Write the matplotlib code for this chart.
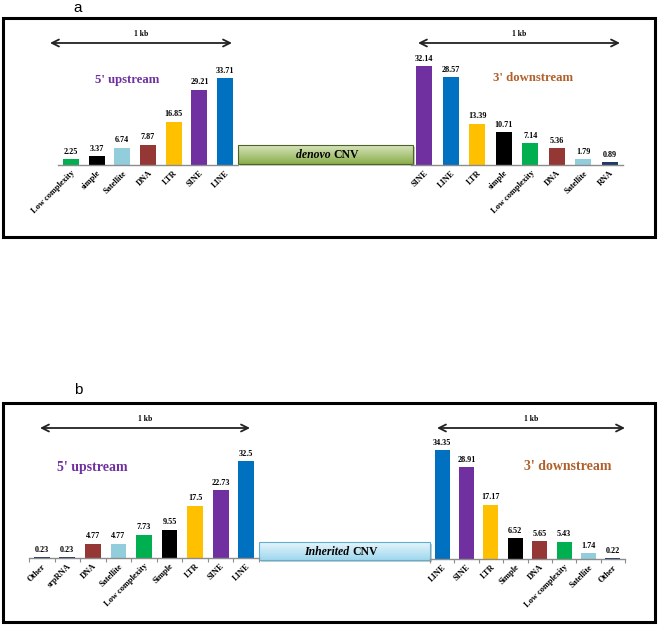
import numpy as np
import matplotlib
matplotlib.use('Agg')
import matplotlib.pyplot as plt
from matplotlib.patches import Rectangle
from matplotlib.colors import LinearSegmentedColormap

W, H = 661, 628

# panel a, de novo CNV
a_up_cats = ['Low complexity', 'simple', 'Satellite', 'DNA', 'LTR', 'SINE', 'LINE']
a_up_vals = [2.25, 3.37, 6.74, 7.87, 16.85, 29.21, 33.71]
a_down_cats = ['SINE', 'LINE', 'LTR', 'simple', 'Low complexity', 'DNA', 'Satellite', 'RNA']
a_down_vals = [32.14, 28.57, 13.39, 10.71, 7.14, 5.36, 1.79, 0.89]

# panel b, inherited CNV
b_up_cats = ['Other', 'srpRNA', 'DNA', 'Satellite', 'Low complexity', 'Simple', 'LTR', 'SINE', 'LINE']
b_up_vals = [0.23, 0.23, 4.77, 4.77, 7.73, 9.55, 17.5, 22.73, 32.5]
b_down_cats = ['LINE', 'SINE', 'LTR', 'Simple', 'DNA', 'Low complexity', 'Satellite', 'Other']
b_down_vals = [34.35, 28.91, 17.17, 6.52, 5.65, 5.43, 1.74, 0.22]

colors = {
    'LINE': '#0070c0', 'SINE': '#7030a0', 'LTR': '#ffc000',
    'simple': '#000000', 'Simple': '#000000', 'Low complexity': '#00b050',
    'DNA': '#953735', 'Satellite': '#92cddc', 'RNA': '#1f3864',
    'Other': '#1f3864', 'srpRNA': '#1f3864',
}

SERIF = 'Liberation Serif'
PURPLE = '#7030a0'
BROWN = '#b0602a'

fig = plt.figure(figsize=(W / 100, H / 100), dpi=100)
fig.patch.set_facecolor('white')

# overlay in pixel coords for frames, arrows, CNV boxes
ov = fig.add_axes([0, 0, 1, 1])
ov.set_xlim(0, W)
ov.set_ylim(H, 0)
ov.axis('off')
ov.patch.set_alpha(0)


def bar_group(cats, vals, x0, x1, base, scale, ticks=False):
    top = base - 120
    ax = fig.add_axes([x0 / W, 1 - base / H, (x1 - x0) / W, (base - top) / H])
    ax.patch.set_alpha(0)
    n = len(cats)
    x = np.arange(n)
    ax.bar(x, vals, width=0.62, color=[colors[c] for c in cats])
    ax.set_xlim(-0.5, n - 0.5)
    ax.set_ylim(0, (base - top) / scale)
    for s in ['top', 'left', 'right']:
        ax.spines[s].set_visible(False)
    ax.spines['bottom'].set_color('#8c8c8c')
    ax.spines['bottom'].set_linewidth(1.0)
    ax.set_yticks([])
    ax.set_xticks(x)
    ax.set_xticklabels(cats, rotation=45, ha='right', rotation_mode='anchor',
                       fontsize=6, fontweight='bold', family=SERIF)
    ax.tick_params(axis='x', length=0, pad=3)
    if ticks:
        ax.set_xticks(np.arange(n + 1) - 0.5, minor=True)
        ax.tick_params(axis='x', which='minor', length=3, color='#8c8c8c', width=0.8)
    for i, v in enumerate(vals):
        ax.annotate(f'{v:g}', xy=(i, v), xytext=(0, 2.5), textcoords='offset points',
                    ha='center', va='bottom', fontsize=5.9, fontweight='bold', family=SERIF)
    return ax


def kb_arrow(x0, x1, y):
    ov.annotate('', xy=(x0, y), xytext=(x1, y),
                arrowprops=dict(arrowstyle='<->,head_length=0.5,head_width=0.25',
                                color='#222222', lw=1.3, shrinkA=0, shrinkB=0))
    ov.text((x0 + x1) / 2, y - 5, '1 kb', ha='center', va='bottom',
            fontsize=5.5, fontweight='bold', family=SERIF)


def cnv_box(x0, x1, y0, y1, c_top, c_bot, edge, word, bold_word):
    cmap = LinearSegmentedColormap.from_list('g', [c_top, c_bot])
    grad = np.linspace(0, 1, 50).reshape(-1, 1)
    ov.imshow(grad, extent=(x0, x1, y1, y0), cmap=cmap, aspect='auto', zorder=1)
    ov.add_patch(Rectangle((x0 + 2, y0 + 2), x1 - x0, y1 - y0, facecolor='#c8c8c8',
                           edgecolor='none', zorder=0.5))
    ov.add_patch(Rectangle((x0, y0), x1 - x0, y1 - y0, fill=False,
                           edgecolor=edge, lw=0.8, zorder=2))
    cx = (x0 + x1) / 2 + 8
    cy = (y0 + y1) / 2 + 1
    ov.text(cx, cy, word + ' ', ha='right', va='center', fontsize=8.5,
            style='italic', fontweight='bold', family=SERIF, zorder=3)
    ov.text(cx, cy, bold_word, ha='left', va='center', fontsize=8.5,
            fontweight='bold', family=SERIF, zorder=3)


# ---- panel a ----
ov.text(78, 8, 'a', ha='center', va='center', fontsize=11, family='Liberation Sans')
ov.add_patch(Rectangle((3, 18), 652, 219, fill=False, edgecolor='black', lw=2.2))
bar_group(a_up_cats, a_up_vals, 58, 238, 165, 2.58)
bar_group(a_down_cats, a_down_vals, 411, 623, 165, 3.08)
kb_arrow(50, 232, 43)
kb_arrow(418, 620, 43)
ov.text(127, 80, "5' upstream", ha='center', va='center', fontsize=9.2,
        fontweight='bold', family=SERIF, color=PURPLE)
ov.text(533, 78, "3' downstream", ha='center', va='center', fontsize=9.2,
        fontweight='bold', family=SERIF, color=BROWN)
cnv_box(238, 413, 145, 164, '#d7e4bd', '#8aae4a', '#4f6228', 'denovo', 'CNV')

# ---- panel b ----
ov.text(78, 390, 'b', ha='center', va='center', fontsize=11, family='Liberation Sans')
ov.add_patch(Rectangle((3, 403), 652, 219, fill=False, edgecolor='black', lw=2.2))
bar_group(b_up_cats, b_up_vals, 29, 259, 558, 2.98, ticks=True)
bar_group(b_down_cats, b_down_vals, 430, 625, 559, 3.17, ticks=True)
kb_arrow(40, 250, 428)
kb_arrow(437, 625, 428)
ov.text(92, 467, "5' upstream", ha='center', va='center', fontsize=10,
        fontweight='bold', family=SERIF, color=PURPLE)
ov.text(568, 466, "3' downstream", ha='center', va='center', fontsize=10,
        fontweight='bold', family=SERIF, color=BROWN)
cnv_box(259, 430, 542, 560, '#e6f5fb', '#9fd8ee', '#5fb0d0', 'Inherited', 'CNV')

ov.set_xlim(0, W)
ov.set_ylim(H, 0)

fig.savefig('out.png', dpi=100, facecolor='white')
